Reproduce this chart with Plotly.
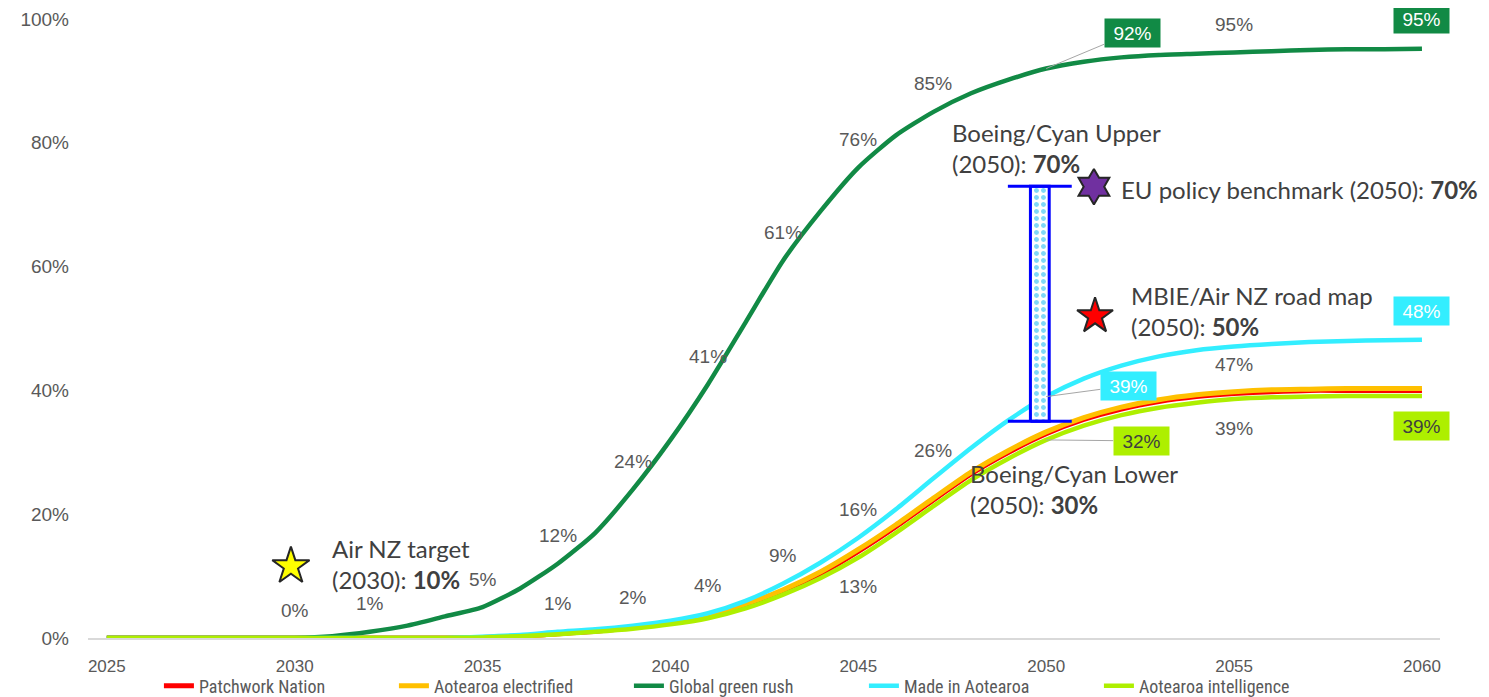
import plotly.graph_objects as go

years = list(range(2025, 2061))

patchwork = [0]*10 + [0.1, 0.3, 0.7, 1.1, 1.7, 2.5, 3.6, 5.3, 7.6, 10.4, 14, 18, 22.3, 26.5, 30, 33,
                      35.3, 37, 38.2, 39, 39.5, 39.8, 40, 40, 40, 40]
electrified = [0]*10 + [0.1, 0.3, 0.7, 1.2, 1.8, 2.6, 3.7, 5.5, 7.8, 10.7, 14.3, 18.3, 22.6, 26.8, 30.3, 33.3,
                        35.6, 37.3, 38.5, 39.3, 39.8, 40.1, 40.2, 40.3, 40.3, 40.3]
green_rush = [0]*6 + [0.3, 1, 2, 3.5, 5, 8, 12, 17, 24, 32, 41, 51, 61, 69, 76, 81.2, 85, 88, 90.2, 92,
                      93.1, 93.8, 94.2, 94.4, 94.6, 94.8, 95, 95.1, 95.1, 95.2]
made_in = [0]*10 + [0.2, 0.5, 1, 1.4, 2, 2.8, 4, 6, 8.8, 12.2, 16.2, 20.8, 25.8, 30.7, 35.2, 39,
                    41.9, 44, 45.5, 46.5, 47.1, 47.5, 47.8, 48, 48.1, 48.2]
intelligence = [0]*10 + [0.1, 0.3, 0.6, 1, 1.5, 2.2, 3.2, 4.8, 7, 9.7, 13, 17, 21.3, 25.5, 29, 32,
                         34.3, 36, 37.2, 38, 38.6, 38.9, 39, 39.1, 39.1, 39.1]

series_names = ["Patchwork Nation", "Aotearoa electrified", "Global green rush",
                "Made in Aotearoa", "Aotearoa intelligence"]
series_values = [patchwork, electrified, green_rush, made_in, intelligence]
series_colors = ["#FF0000", "#FFC000", "#118A45", "#33EEFF", "#AEEF00"]
series_widths = [5, 5, 4.5, 4.5, 4.5]

green_label_years = [2030, 2032, 2035, 2037, 2039, 2041, 2043, 2045, 2047, 2055]
cyan_label_years_above = [2037, 2039, 2041, 2043, 2045, 2047]
cyan_label_years_below = [2055]
lime_label_years_below = [2045, 2055]

boeing_range = [35, 73]          # drawn bar extent (%)
boeing_year = 2049.83

bench_names = ["Air NZ target (2030)", "MBIE/Air NZ road map (2050)", "EU policy benchmark (2050)"]
bench_x = [2029.9, 2051.3, 2051.27]
bench_y = [11.6, 52, 72.9]
bench_symbols = ["star", "star", "hexagram"]
bench_colors = ["#FFFF00", "#FF0000", "#7030A0"]
bench_sizes = [28, 27, 27]

y_ticks = [0, 20, 40, 60, 80, 100]
y_tick_text = ["0%", "20%", "40%", "60%", "80%", "100%"]
x_ticks = [2025, 2030, 2035, 2040, 2045, 2050, 2055, 2060]

LABEL_FONT = dict(family="Liberation Sans, Arial", size=19, color="#595959")
NOTE_FONT = "Lato, Open Sans, sans-serif"

fig = go.Figure()

for name, vals, col, w in zip(series_names, series_values, series_colors, series_widths):
    fig.add_trace(go.Scatter(x=years, y=vals, name=name, mode="lines",
                             line=dict(color=col, width=w, shape="spline", smoothing=0.6)))

half_w = 0.25
cap_half = 0.85
lo, hi = boeing_range
fig.add_trace(go.Scatter(
    x=[boeing_year - half_w, boeing_year + half_w, boeing_year + half_w, boeing_year - half_w, boeing_year - half_w],
    y=[lo, lo, hi, hi, lo], mode="lines", fill="toself",
    fillcolor="white",
    fillpattern=dict(shape=".", fgcolor="#00B0F0", bgcolor="white", size=7, solidity=0.4),
    line=dict(color="#0000FF", width=3), showlegend=False, hoverinfo="skip"))
fig.add_trace(go.Scatter(
    x=[boeing_year - cap_half, boeing_year + cap_half, None, boeing_year - cap_half, boeing_year + cap_half],
    y=[lo, lo, None, hi, hi], mode="lines", line=dict(color="#0000FF", width=3),
    showlegend=False, hoverinfo="skip"))

fig.add_trace(go.Scatter(x=bench_x, y=bench_y, mode="markers", text=bench_names,
                         marker=dict(symbol=bench_symbols, color=bench_colors, size=bench_sizes,
                                     opacity=1, line=dict(color="#262626", width=2)),
                         opacity=1, showlegend=False, hoverinfo="text"))

def val(series, yr):
    return series[years.index(yr)]

def lab(series, yr, shift):
    v = val(series, yr)
    fig.add_annotation(x=yr, y=v, text=f"{v:.0f}%", showarrow=False, yshift=shift, font=LABEL_FONT)

for yr in green_label_years:
    lab(green_rush, yr, 28)
for yr in cyan_label_years_above:
    lab(made_in, yr, 28)
for yr in cyan_label_years_below:
    lab(made_in, yr, -18)
for yr in lime_label_years_below:
    lab(intelligence, yr, -29)

def boxed(series, yr, bg, fc, shift=0, ax=None, ay=None):
    v = val(series, yr)
    kw = dict(x=yr, y=v, text=f"{v:.0f}%", bgcolor=bg, borderpad=4, width=47, height=20,
              font=dict(family="Liberation Sans, Arial", size=19, color=fc))
    if ax is None:
        fig.add_annotation(showarrow=False, yshift=shift, **kw)
    else:
        fig.add_annotation(showarrow=True, arrowhead=0, arrowwidth=1, arrowcolor="#A6A6A6",
                           ax=ax, ay=ay, **kw)

boxed(green_rush, 2050, "#118A45", "white", ax=86, ay=-36)
boxed(green_rush, 2060, "#118A45", "white", shift=30)
boxed(made_in, 2050, "#33EEFF", "white", ax=82, ay=-11)
boxed(made_in, 2060, "#33EEFF", "white", shift=29)
boxed(intelligence, 2050, "#AEEF00", "#404040", ax=95, ay=1)
boxed(intelligence, 2060, "#AEEF00", "#404040", shift=-30)

notes = [
    (2030.94, 12.0, "Air NZ target<br>(2030): <b>10%</b>"),
    (2047.45, 79.2, "Boeing/Cyan Upper<br>(2050): <b>70%</b>"),
    (2051.95, 72.5, "EU policy benchmark (2050): <b>70%</b>"),
    (2052.2, 52.8, "MBIE/Air NZ road map<br>(2050): <b>50%</b>"),
    (2047.92, 24.1, "Boeing/Cyan Lower<br>(2050): <b>30%</b>"),
]
for x, y, t in notes:
    fig.add_annotation(x=x, y=y, text=t, showarrow=False, xanchor="left", yanchor="middle",
                       align="left", font=dict(family=NOTE_FONT, size=24, color="#404040"))

# page body has an 8px margin: size/margins compensate so the plot lands where the reference has it
fig.update_layout(
    width=1481, height=689,
    margin=dict(l=80, r=49, t=11, b=59, autoexpand=False),
    plot_bgcolor="white", paper_bgcolor="white",
    showlegend=True,
    legend=dict(orientation="h", x=0.487, xanchor="center", y=-0.0775, yanchor="middle",
                bgcolor="rgba(0,0,0,0)",
                font=dict(family="Liberation Sans Narrow, Roboto Condensed, Liberation Sans", size=18, color="#595959"),
                entrywidth=190, entrywidthmode="pixels", itemwidth=30, tracegroupgap=0),
    xaxis=dict(range=[2024.5, 2060.48], tickvals=x_ticks, showgrid=False,
               zeroline=False, showline=True, linecolor="#D9D9D9", linewidth=1.5, ticks="",
               tickfont=dict(family="Liberation Sans, Arial", size=17, color="#595959"),
               ticklabelstandoff=12),
    yaxis=dict(range=[0, 100], tickvals=y_ticks, ticktext=y_tick_text, showgrid=False,
               zeroline=False, showline=False, ticks="",
               tickfont=dict(family="Liberation Sans, Arial", size=19, color="#595959"),
               ticklabelstandoff=18),
)

fig.write_html("out.html")
